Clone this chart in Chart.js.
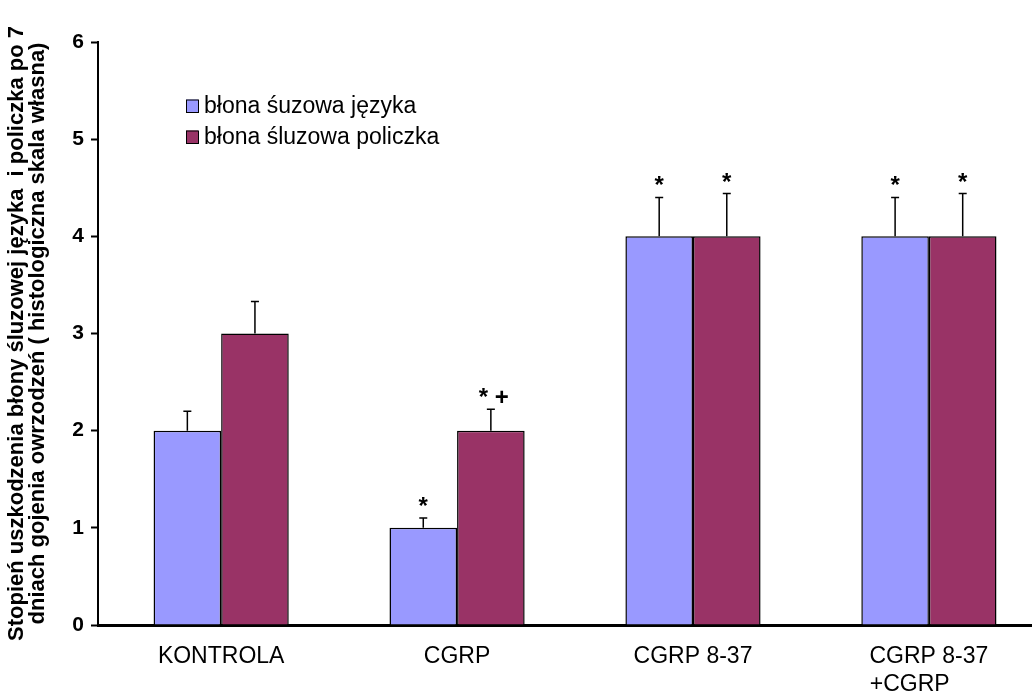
<!DOCTYPE html>
<html>
<head>
<meta charset="utf-8">
<script src="https://cdn.jsdelivr.net/npm/chart.js@4.4.1/dist/chart.umd.min.js"></script>
<style>
  html, body { margin: 0; padding: 0; background: #ffffff; overflow: hidden; }
  canvas { display: block; }
</style>
</head>
<body>
<canvas id="chart" width="1032" height="692"></canvas>
<script>
// Groups along the x axis (last one wraps onto two lines)
const categories = ['KONTROLA', 'CGRP', 'CGRP 8-37', ['CGRP 8-37', '+CGRP']];

// Series names
const tongueName = 'błona śuzowa języka';
const cheekName = 'błona śluzowa policzka';

// Mean score and SD per group
const tongueValues = [2, 1, 4, 4];
const tongueErrors = [0.2, 0.1, 0.4, 0.4];
const cheekValues = [3, 2, 4, 4];
const cheekErrors = [0.33, 0.22, 0.44, 0.44];

// Significance marks above the error bars
const tongueMarks = ['', '*', '*', '*'];
const cheekMarks = ['', '* +', '*', '*'];

// Value axis
const yTicks = [0, 1, 2, 3, 4, 5, 6];
const yTitle = [
  'Stopień uszkodzenia błony śluzowej języka  i policzka po 7',
  'dniach gojenia owrzodzeń ( histologiczna skala własna)'
];

const FONT = "'Liberation Sans', Arial, Helvetica, sans-serif";
const BLUE = '#9999ff';
const PLUM = '#993366';
const LABEL_SIZE = 23;

// Left-align the lines of a wrapped label by padding the shorter ones
const measureCtx = document.createElement('canvas').getContext('2d');
measureCtx.font = LABEL_SIZE + 'px ' + FONT;
function leftAlignLines(label) {
  if (!Array.isArray(label)) return label;
  const widest = Math.max(...label.map(l => measureCtx.measureText(l).width));
  return label.map(l => {
    let s = l;
    while (measureCtx.measureText(s + ' ').width <= widest + 2) s += ' ';
    return s;
  });
}

const toPoints = (values) => values.map((v, i) => ({ x: i, y: v }));

// Error bars with caps, plus significance marks
const errorBarPlugin = {
  id: 'errorBars',
  afterDatasetsDraw(chart) {
    const ctx = chart.ctx;
    const yScale = chart.scales.y;
    chart.data.datasets.forEach((ds, di) => {
      const meta = chart.getDatasetMeta(di);
      meta.data.forEach((bar, i) => {
        const top = yScale.getPixelForValue(ds.data[i].y + ds.errors[i]);
        ctx.save();
        ctx.strokeStyle = '#000';
        ctx.lineWidth = 1.5;
        ctx.beginPath();
        ctx.moveTo(bar.x, bar.y);
        ctx.lineTo(bar.x, top);
        ctx.moveTo(bar.x - 4, top);
        ctx.lineTo(bar.x + 4, top);
        ctx.stroke();
        const mark = ds.marks[i];
        if (mark) {
          ctx.fillStyle = '#000';
          ctx.font = 'bold 24px ' + FONT;
          ctx.textAlign = 'center';
          ctx.textBaseline = 'alphabetic';
          ctx.fillText(mark, bar.x + (mark.length > 1 ? 3 : 0), top - 4);
        }
        ctx.restore();
      });
    });
  }
};

// Legend box inside the plot area
const legendPlugin = {
  id: 'legendBox',
  afterDraw(chart) {
    const ctx = chart.ctx;
    ctx.save();
    chart.data.datasets.forEach((ds, i) => {
      const cy = 106 + i * 31;
      ctx.fillStyle = ds.backgroundColor;
      ctx.fillRect(186, cy - 6.5, 12, 13);
      ctx.strokeStyle = '#000';
      ctx.lineWidth = 1;
      ctx.strokeRect(186.5, cy - 6, 12, 12.5);
      ctx.fillStyle = '#000';
      ctx.font = LABEL_SIZE + 'px ' + FONT;
      ctx.textAlign = 'left';
      ctx.textBaseline = 'middle';
      ctx.fillText(ds.label, 204, cy + 1);
    });
    ctx.restore();
  }
};

new Chart(document.getElementById('chart'), {
  type: 'bar',
  data: {
    datasets: [
      {
        label: tongueName,
        data: toPoints(tongueValues),
        errors: tongueErrors,
        marks: tongueMarks,
        backgroundColor: BLUE,
        borderColor: '#000',
        borderWidth: 1.5
      },
      {
        label: cheekName,
        data: toPoints(cheekValues),
        errors: cheekErrors,
        marks: cheekMarks,
        backgroundColor: PLUM,
        borderColor: '#000',
        borderWidth: 1.5
      }
    ]
  },
  options: {
    responsive: false,
    animation: false,
    devicePixelRatio: 1,
    layout: { padding: { top: 42, right: 0, left: 0, bottom: 0 } },
    categoryPercentage: 0.573,
    barPercentage: 1,
    plugins: {
      legend: { display: false },
      tooltip: { enabled: false }
    },
    scales: {
      x: {
        type: 'linear',
        offset: false,
        min: -0.522,
        max: 3.437,
        afterBuildTicks(scale) {
          scale.ticks = categories.map((_, i) => ({ value: i }));
        },
        afterFit(scale) { scale.height = 67; },
        grid: { display: false, drawTicks: false, offset: false },
        border: { display: true, color: '#000', width: 3 },
        ticks: {
          padding: 18,
          color: '#000',
          font: { family: FONT, size: LABEL_SIZE, lineHeight: 1.2 },
          maxRotation: 0,
          autoSkip: false,
          callback: (value) => leftAlignLines(categories[value])
        }
      },
      y: {
        min: 0,
        max: 6,
        afterBuildTicks(scale) {
          scale.ticks = yTicks.map(v => ({ value: v }));
        },
        afterFit(scale) { scale.width = 98; },
        grid: {
          display: true,
          drawOnChartArea: false,
          drawTicks: true,
          tickLength: 7,
          tickWidth: 2,
          tickColor: '#000'
        },
        border: { display: true, color: '#000', width: 2 },
        ticks: {
          padding: 7,
          color: '#000',
          font: { family: FONT, size: 21, weight: 'bold' }
        },
        title: {
          display: true,
          text: yTitle,
          color: '#000',
          padding: { top: 6, bottom: 0 },
          font: { family: FONT, size: 22, weight: 'bold', lineHeight: '21px' }
        }
      }
    }
  },
  plugins: [errorBarPlugin, legendPlugin]
});
</script>
</body>
</html>
